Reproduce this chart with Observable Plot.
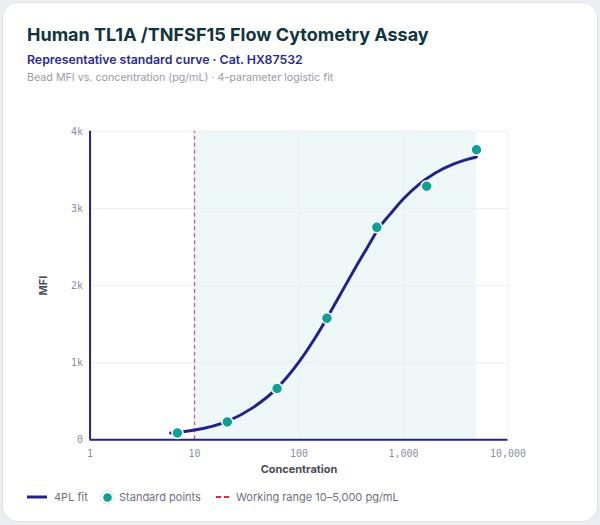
<!DOCTYPE html>
<html>
<head>
<meta charset="utf-8">
<script src="https://cdn.jsdelivr.net/npm/d3@7"></script>
<script src="https://cdn.jsdelivr.net/npm/@observablehq/plot@0.6"></script>
<style>
  html, body { margin: 0; padding: 0; background: #eceef3; width: 600px; height: 525px; overflow: hidden; }
  .card { position: absolute; left: 2px; top: 2px; width: 594px; height: 518px; background: #fff; border: 1px solid #e1e3ea; border-radius: 16px; font-family: "Inter", "Lato", sans-serif; }
  .title { position: absolute; left: 24px; top: 21px; font-size: 18px; font-weight: 700; color: #113540; white-space: nowrap; }
  .subtitle { position: absolute; left: 24px; top: 49px; font-size: 12.3px; font-weight: 600; color: #2a2a94; white-space: nowrap; }
  .caption { position: absolute; left: 24px; top: 68px; font-size: 10.7px; color: #9a9aa4; white-space: nowrap; }
  #chart { position: absolute; left: -3px; top: 97px; }
  .legend { position: absolute; left: 24px; top: 486px; height: 16px; font-size: 11px; color: #70707c; white-space: nowrap; }
  .legend .item { position: absolute; top: 0; height: 16px; display: flex; align-items: center; }
  .legend svg { display: block; }
  #chart svg text { font-family: "DejaVu Sans Mono", monospace; }
  #chart g[aria-label="x-axis label"] text, #chart g[aria-label="y-axis label"] text { font-family: "Inter", "Lato", sans-serif; font-weight: 700; font-size: 11px; fill: #4b4b58; }
</style>
</head>
<body>
<div class="card">
  <div class="title">Human TL1A /TNFSF15 Flow Cytometry Assay</div>
  <div class="subtitle">Representative standard curve · Cat. HX87532</div>
  <div class="caption">Bead MFI vs. concentration (pg/mL) · 4-parameter logistic fit</div>
  <div id="chart"></div>
  <div class="legend">
    <div class="item" style="left:0px"><svg width="20" height="10" style="margin-right:7px"><line x1="0" y1="5" x2="20" y2="5" stroke="#22228c" stroke-width="3"/></svg>4PL fit</div>
    <div class="item" style="left:73px"><svg width="15" height="15" style="margin-right:4px"><circle cx="7.5" cy="7.5" r="6.8" fill="#fff" stroke="#dfe1e8" stroke-width="1"/><circle cx="7.5" cy="7.5" r="4.3" fill="#0e9f98"/></svg>Standard points</div>
    <div class="item" style="left:189px"><svg width="13" height="10" style="margin-right:7px"><line x1="0" y1="5" x2="13" y2="5" stroke="#e0283c" stroke-width="2" stroke-dasharray="5,3"/></svg>Working range 10–5,000 pg/mL</div>
  </div>
</div>
<script>
// Standard points (3-fold dilution series)
const stdConc = [6.86, 20.6, 61.7, 185, 556, 1667, 5000];
const stdMFI  = [88, 232, 665, 1577, 2755, 3288, 3761];

// 4PL fitted curve
const fitConc = [5.9, 10, 20.6, 35.9, 61.7, 100, 140, 185, 250, 350, 450, 578, 750, 1000, 1400, 2000, 3000, 4000, 5000];
const fitMFI  = [88, 126, 240, 414, 670, 1010, 1304, 1577, 1891, 2242, 2491, 2740, 2930, 3126, 3310, 3457, 3574, 3634, 3668];

// Working range
const rangeLow = 10, rangeHigh = 5000;

const xTicks = [1, 10, 100, 1000, 10000];
const xTickLabels = ["1", "10", "100", "1,000", "10,000"];
const yTicks = [0, 1000, 2000, 3000, 4000];
const yTickLabels = ["0", "1k", "2k", "3k", "4k"];

const points = stdConc.map((c, i) => ({conc: c, mfi: stdMFI[i]}));
const fit = fitConc.map((c, i) => ({conc: c, mfi: fitMFI[i]}));

const navy = "#22228c";
const grid = "#eceef5";

const chart = Plot.plot({
  width: 600,
  height: 390,
  marginTop: 31,
  marginBottom: 49,
  marginLeft: 90,
  marginRight: 90,
  style: {background: "transparent", overflow: "visible"},
  x: {type: "log", domain: [1, 10000]},
  y: {domain: [0, 4000]},
  marks: [
    Plot.rect([{x1: rangeLow, x2: rangeHigh}], {x1: "x1", x2: "x2", y1: 0, y2: 4000, fill: "#eef8f9"}),
    Plot.ruleX(xTicks.slice(1), {y1: 0, y2: 4000, stroke: grid, strokeWidth: 1}),
    Plot.ruleY(yTicks.slice(1), {x1: 1, x2: 10000, stroke: grid, strokeWidth: 1}),
    Plot.ruleX([rangeLow], {y1: 0, y2: 4000, stroke: "#d8576a", strokeWidth: 1.3, strokeDasharray: "4,3"}),
    Plot.axisX({ticks: xTicks, tickFormat: d => xTickLabels[xTicks.indexOf(d)], tickSize: 0, tickPadding: 10, fontSize: 10, color: "#8c8ca6", label: "Concentration", labelAnchor: "center", labelArrow: "none", labelOffset: 33}),
    Plot.axisY({ticks: yTicks, tickFormat: d => yTickLabels[yTicks.indexOf(d)], tickSize: 0, tickPadding: 7, fontSize: 10, color: "#8c8ca6", label: "MFI", labelAnchor: "center", labelArrow: "none", labelOffset: 51}),
    Plot.line(fit, {x: "conc", y: "mfi", stroke: navy, strokeWidth: 3, curve: "monotone-x"}),
    Plot.ruleX([1], {y1: 0, y2: 4000, stroke: navy, strokeWidth: 2}),
    Plot.ruleY([0], {x1: 1, x2: 10000, stroke: navy, strokeWidth: 2}),
    Plot.dot(points, {x: "conc", y: "mfi", r: 5.5, fill: "#0e9f98", stroke: "#fff", strokeWidth: 1.5})
  ]
});
document.getElementById("chart").appendChild(chart);
</script>
</body>
</html>
